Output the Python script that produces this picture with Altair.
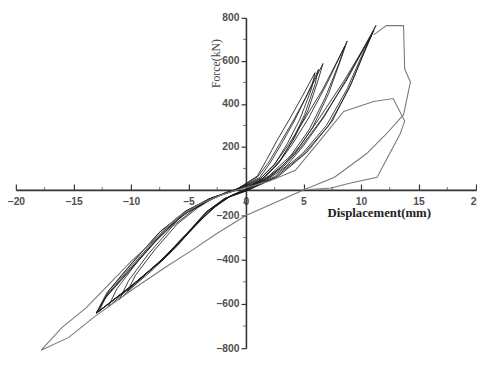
import altair as alt
import pandas as pd

# ---- data (displacement mm, force kN) ----
loop_x = [
    [-1.0, 0.0, 1.0, 1.8, 2.7, 3.8, 4.9, 6.0, 5.7, 4.7, 3.6, 2.5, 1.2, 0.0, -1.2, -2.5, -4.0, -6.0, -8.2, -10.3, -9.6, -8.0, -6.0, -4.2, -2.6, -1.0],
    [-1.0, 0.0, 1.0, 2.0, 3.0, 4.2, 5.5, 6.7, 6.3, 5.4, 4.2, 3.0, 1.5, 0.0, -1.3, -2.7, -4.3, -6.5, -8.8, -11.0, -10.2, -8.5, -6.4, -4.5, -2.8, -1.0],
    [-1.2, 0.0, 1.2, 2.1, 3.1, 4.2, 5.3, 6.3, 6.0, 5.1, 4.0, 2.9, 1.6, 0.0, -1.4, -2.8, -4.5, -6.8, -9.3, -12.0, -11.2, -9.3, -7.0, -4.8, -3.0, -1.2],
    [-1.3, 0.0, 1.3, 2.5, 3.7, 5.0, 6.7, 8.6, 8.1, 6.9, 5.5, 3.9, 2.0, 0.0, -1.5, -3.0, -4.7, -7.0, -9.8, -12.8, -11.9, -9.8, -7.4, -5.1, -3.2, -1.3],
    [-1.4, 0.0, 1.4, 2.7, 4.0, 5.4, 7.0, 8.8, 8.3, 7.2, 5.8, 4.2, 2.2, 0.0, -1.6, -3.1, -4.8, -7.2, -10.0, -13.0, -12.1, -10.0, -7.6, -5.3, -3.3, -1.4],
    [-1.5, 0.0, 1.6, 3.2, 4.7, 6.4, 8.5, 10.9, 10.2, 8.8, 7.0, 4.9, 2.5, 0.0, -1.7, -3.3, -5.0, -7.4, -10.1, -13.0, -12.1, -10.0, -7.6, -5.3, -3.3, -1.5],
    [-1.6, 0.0, 1.7, 3.3, 4.8, 6.6, 8.7, 11.1, 10.4, 9.0, 7.2, 5.0, 2.6, 0.0, -1.8, -3.4, -5.1, -7.5, -10.2, -13.0, -12.2, -10.1, -7.7, -5.4, -3.4, -1.6],
    [-1.8, 0.0, 1.8, 3.5, 5.0, 6.8, 8.9, 11.3, 10.6, 9.2, 7.5, 5.3, 2.8, 0.0, -1.9, -3.5, -5.2, -7.6, -10.3, -13.0, -12.3, -10.2, -7.8, -5.5, -3.5, -1.8],
]
loop_y = [
    [-5, 30, 65, 140, 230, 330, 435, 545, 470, 330, 215, 120, 50, 5, -40, -120, -220, -340, -450, -543, -470, -360, -240, -140, -50, -5],
    [-8, 28, 60, 130, 220, 330, 460, 588, 515, 370, 240, 140, 55, 0, -45, -130, -240, -360, -470, -580, -495, -375, -250, -150, -58, -8],
    [-10, 25, 58, 125, 215, 320, 440, 560, 490, 350, 225, 130, 55, 0, -50, -140, -250, -375, -490, -615, -530, -400, -265, -155, -62, -10],
    [-12, 22, 55, 120, 210, 320, 470, 668, 590, 430, 280, 160, 65, 0, -55, -150, -260, -390, -510, -635, -540, -410, -270, -160, -70, -12],
    [-15, 20, 52, 115, 210, 330, 490, 692, 615, 450, 290, 165, 65, -5, -60, -160, -270, -400, -520, -641, -550, -420, -280, -168, -75, -15],
    [-15, 18, 48, 112, 205, 335, 505, 718, 640, 470, 300, 168, 62, -5, -62, -165, -275, -405, -525, -641, -560, -432, -292, -178, -82, -15],
    [-18, 15, 46, 110, 200, 330, 505, 740, 655, 475, 300, 165, 60, -8, -65, -170, -280, -410, -530, -641, -570, -445, -305, -190, -90, -18],
    [-20, 12, 45, 110, 205, 340, 530, 765, 680, 500, 320, 175, 62, -10, -68, -175, -285, -415, -535, -641, -578, -455, -315, -198, -98, -20],
]
gray_x = [11.1, 12.2, 13.7, 13.8, 14.3, 13.7, 12.2, 10.5, 7.7, 5.0, 0.0, -2.6, -4.5, -6.8, -9.7, -13.1, -15.4, -17.8,
          -16.0, -13.9, -12.0, -10.0, -7.9, -6.0, -4.0, -2.0, -0.8, 2.0, 4.3, 6.2, 8.5, 11.1, 12.8, 13.8, 13.4, 11.4, 9.1, 7.4, 5.5]
gray_y = [721, 764, 764, 562, 502, 350, 260, 169, 59, 0, -200, -284, -351, -427, -529, -655, -751, -809,
          -707, -618, -516, -409, -307, -210, -110, -35, 0, 40, 91, 214, 365, 411, 425, 320, 260, 59, 32, 9, 2]

x_ticks = [-20, -15, -10, -5, 0, 5, 10, 15, 20]
y_ticks = [-800, -600, -400, -200, 200, 400, 600, 800]
x_minor = [-17.5, -12.5, -7.5, -2.5, 2.5, 7.5, 12.5, 17.5]
y_minor = [-700, -500, -300, -100, 100, 300, 500, 700]

rows = []
for i, (xs, ys) in enumerate(zip(loop_x, loop_y)):
    for j, (a, b) in enumerate(zip(xs, ys)):
        rows.append({"loop": i, "idx": j, "x": a, "y": b})
loops_df = pd.DataFrame(rows)
gray_df = pd.DataFrame({"idx": list(range(len(gray_x))), "x": gray_x, "y": gray_y})
xminor_df = pd.DataFrame({"x": x_minor, "y": [0] * len(x_minor)})
yminor_df = pd.DataFrame({"x": [0] * len(y_minor), "y": y_minor})

W, H = 468, 336
X0_PX = 234   # pixel of x = 0
Y0_PX = 175   # pixel of y = 0

xscale = alt.Scale(domain=[-20, 20], nice=False, zero=False)
yscale = alt.Scale(domain=[-800, -200, 0, 800], range=[336, 201, 175, 0], nice=False, zero=False)

xaxis = alt.Axis(
    orient="top", offset=-Y0_PX, values=x_ticks, grid=False, format="d",
    domainColor="#333", domainWidth=1.6, tickColor="#333", tickSize=6, tickWidth=1.2,
    labelFont="Liberation Sans", labelFontWeight="bold", labelFontSize=10.5, labelColor="#505050",
    labelBaseline="top", labelPadding=-13, labelFlush=False, labelOverlap=False,
    title="Displacement(mm)", titleFont="Liberation Serif", titleFontSize=13,
    titleFontWeight="bold", titleColor="#222", titleX=369, titleY=23,
    titleAlign="center", titleBaseline="middle", titleAngle=0,
)
yaxis = alt.Axis(
    orient="left", offset=-X0_PX, values=y_ticks, grid=False, format="d",
    domainColor="#333", domainWidth=1.6, tickColor="#333", tickSize=5, tickWidth=1.2,
    labelFont="Liberation Sans", labelFontWeight="bold", labelFontSize=10.5, labelColor="#505050",
    labelPadding=2, labelOverlap=False, labelFlush=False,
    title="Force(kN)", titleFont="Liberation Serif", titleFontSize=12,
    titleFontWeight="normal", titleColor="#444", titleX=-31, titleY=46,
    titleAlign="center", titleBaseline="middle", titleAngle=270,
)

xenc = alt.X("x:Q", scale=xscale, axis=xaxis)
yenc = alt.Y("y:Q", scale=yscale, axis=yaxis)

loops = alt.Chart(loops_df).mark_line(color="#1a1a1a", strokeWidth=1.0, opacity=0.85).encode(
    x=xenc, y=yenc, detail="loop:N", order="idx:Q"
)
gray = alt.Chart(gray_df).mark_line(color="#7a7a7a", strokeWidth=1.1).encode(
    x=xenc, y=yenc, order="idx:Q"
)
xminor = alt.Chart(xminor_df).mark_tick(orient="vertical", size=3, thickness=1, color="#333", yOffset=-1.5).encode(
    x=xenc, y=yenc
)
yminor = alt.Chart(yminor_df).mark_tick(orient="horizontal", size=3, thickness=1, color="#333", xOffset=-1.5).encode(
    x=xenc, y=yenc
)

chart = alt.layer(loops, gray, xminor, yminor).properties(
    width=W, height=H,
    autosize=alt.AutoSizeParams(type="none"),
    padding={"left": 8, "top": 7, "right": 1, "bottom": 10},
    background="white",
).configure_view(stroke=None)

chart.save("out.html", embed_options={"renderer": "svg", "actions": False})
